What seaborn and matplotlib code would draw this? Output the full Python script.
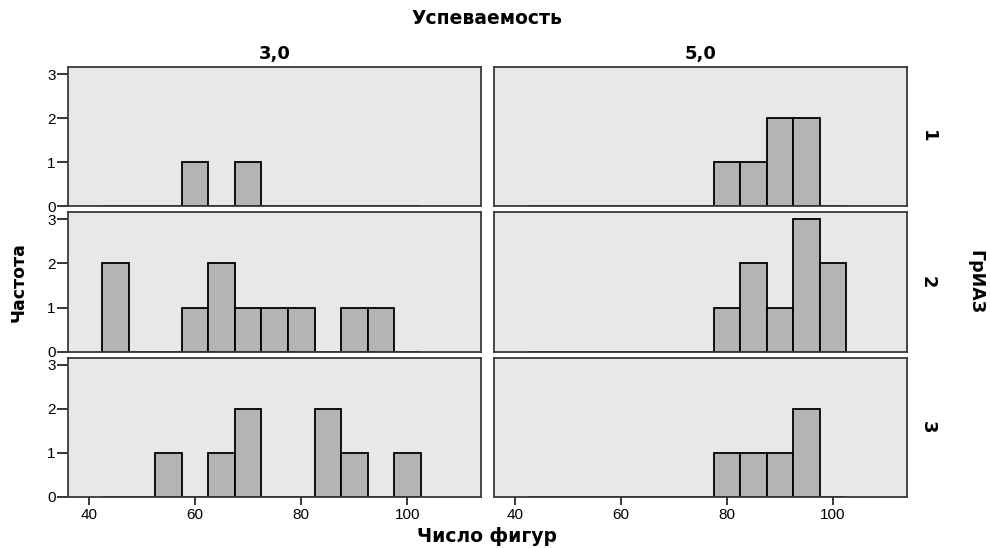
import numpy as np
import pandas as pd
import matplotlib
matplotlib.use("Agg")
import matplotlib.pyplot as plt
import seaborn as sns

# facet levels
score_levels = ["3,0", "5,0"]
group_levels = ["1", "2", "3"]

# histogram bins (centres, width 5) and counts per panel
bin_centers = [45, 50, 55, 60, 65, 70, 75, 80, 85, 90, 95, 100]
counts_3_g1 = [0, 0, 0, 1, 0, 1, 0, 0, 0, 0, 0, 0]
counts_3_g2 = [2, 0, 0, 1, 2, 1, 1, 1, 0, 1, 1, 0]
counts_3_g3 = [0, 0, 1, 0, 1, 2, 0, 0, 2, 1, 0, 1]
counts_5_g1 = [0, 0, 0, 0, 0, 0, 0, 1, 1, 2, 2, 0]
counts_5_g2 = [0, 0, 0, 0, 0, 0, 0, 1, 2, 1, 3, 2]
counts_5_g3 = [0, 0, 0, 0, 0, 0, 0, 1, 1, 1, 2, 0]

x_ticks = [40, 60, 80, 100]
y_ticks = [0, 1, 2, 3]

panel_counts = {
    ("3,0", "1"): counts_3_g1, ("3,0", "2"): counts_3_g2, ("3,0", "3"): counts_3_g3,
    ("5,0", "1"): counts_5_g1, ("5,0", "2"): counts_5_g2, ("5,0", "3"): counts_5_g3,
}

rows = []
for (score, grp), counts in panel_counts.items():
    for c, n in zip(bin_centers, counts):
        rows.append({"Успеваемость": score, "ГрИАЗ": grp, "Число фигур": c, "Частота": n})
df = pd.DataFrame(rows)

bin_width = 5
bin_range = (bin_centers[0] - bin_width / 2, bin_centers[-1] + bin_width / 2)

sns.set_style("white")
plt.rcParams["font.family"] = ["Liberation Sans", "DejaVu Sans"]
plt.rcParams["text.color"] = "black"

g = sns.FacetGrid(df, row="ГрИАЗ", col="Успеваемость",
                  row_order=group_levels, col_order=score_levels,
                  sharex=True, sharey=True, height=1.5, aspect=3)
g.map_dataframe(sns.histplot, x="Число фигур", weights="Частота",
                binwidth=bin_width, binrange=bin_range,
                color="#B4B4B4", edgecolor="black", linewidth=1.3, alpha=1)

fig = g.figure
fig.set_size_inches(9.9, 5.48)
W, H = 990, 548
fig.subplots_adjust(left=68 / W, right=907 / W, top=1 - 67 / H, bottom=1 - 497 / H,
                    wspace=12 / 413, hspace=6 / 139)

g.set_axis_labels("", "")
g.set_titles("")

bold = dict(fontweight="bold", family="DejaVu Sans", color="black")

for i, grp in enumerate(group_levels):
    for j, score in enumerate(score_levels):
        ax = g.axes[i, j]
        ax.set_facecolor("#E8E8E8")
        ax.set_xlim(36, 114)
        ax.set_ylim(0, 3.16)
        ax.set_xticks(x_ticks)
        ax.set_yticks(y_ticks)
        for sp in ax.spines.values():
            sp.set_visible(True)
            sp.set_color("#3A3A3A")
            sp.set_linewidth(1.3)
        ax.tick_params(axis="both", direction="out", color="black", width=1.1,
                       labelsize=11, labelcolor="black")
        ax.tick_params(axis="y", left=True, length=8, pad=1)
        ax.tick_params(axis="x", bottom=True, length=6, pad=2)
        if j > 0:
            ax.tick_params(axis="y", left=False, labelleft=False)
        if i < len(group_levels) - 1:
            ax.tick_params(axis="x", bottom=False, labelbottom=False)
        if i == 0:
            ax.set_title(score, fontsize=13, pad=6, **bold)
        if j == len(score_levels) - 1:
            ax.text(1.0 + 21 / 414, 0.5, grp, transform=ax.transAxes, rotation=-90,
                    ha="center", va="center", fontsize=13, **bold)

fig.text(487 / W, 1 - 18 / H, "Успеваемость", ha="center", va="center",
         fontsize=13.5, **bold)
fig.text(487 / W, 1 - 537 / H, "Число фигур", ha="center", va="center",
         fontsize=13.5, **bold)
fig.text(19 / W, 1 - 282 / H, "Частота", ha="center", va="center", rotation=90,
         fontsize=12.5, **bold)
fig.text(975 / W, 1 - 282 / H, "ГрИАЗ", ha="center", va="center", rotation=-90,
         fontsize=12.5, **bold)

fig.savefig("out.png", dpi=100, facecolor="white")
